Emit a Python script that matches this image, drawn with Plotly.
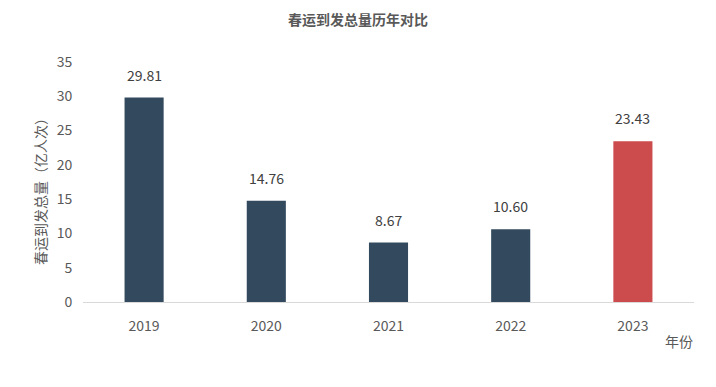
import plotly.graph_objects as go

years = ["2019", "2020", "2021", "2022", "2023"]
values = [29.81, 14.76, 8.67, 10.60, 23.43]
labels = ["29.81", "14.76", "8.67", "10.60", "23.43"]
colors = ["#334a5e", "#334a5e", "#334a5e", "#334a5e", "#cc4b4c"]

FONT = "Noto Sans CJK SC"
fig = go.Figure()
fig.add_trace(go.Bar(x=years, y=values, marker=dict(color=colors, line=dict(width=0)),
                     width=0.32, hoverinfo="skip"))
for i, (v, t) in enumerate(zip(values, labels)):
    fig.add_annotation(x=i, y=v, text=t, showarrow=False, yanchor="bottom", yshift=11,
                       font=dict(family=FONT, size=14, color="#404040"))
fig.add_annotation(xref="paper", yref="paper", x=1.002, y=-0.213, text="年份", showarrow=False,
                   font=dict(family=FONT, size=14, color="#595959"))
fig.add_annotation(xref="paper", yref="paper", x=-0.0704, y=0.475, text="春运到发总量（亿人次）",
                   textangle=-90, showarrow=False, xanchor="center", yanchor="middle",
                   font=dict(family=FONT, size=14, color="#595959"))
fig.update_layout(
    width=716, height=387,
    margin=dict(l=75, r=30, t=54, b=93),
    paper_bgcolor="white", plot_bgcolor="white",
    showlegend=False,
    title=dict(text="<b>春运到发总量历年对比</b>", x=350/716, xref="container", xanchor="center",
               y=1 - 12/387, yref="container", yanchor="middle",
               font=dict(family=FONT, size=14, color="#595959")),
    font=dict(family=FONT, color="#595959", size=14),
)
fig.update_xaxes(type="category", range=[-0.5, 4.5], showline=True, linecolor="#d9d9d9",
                 linewidth=1, ticks="outside", ticklen=11, tickcolor="rgba(0,0,0,0)",
                 showgrid=False, automargin=False, tickfont=dict(size=14, color="#595959"))
fig.update_yaxes(range=[0, 35], dtick=5, showgrid=False, zeroline=False, showline=False,
                 ticks="outside", ticklen=7, tickcolor="rgba(0,0,0,0)", automargin=False,
                 tickfont=dict(size=14, color="#595959"))
fig.write_html("out.html")
